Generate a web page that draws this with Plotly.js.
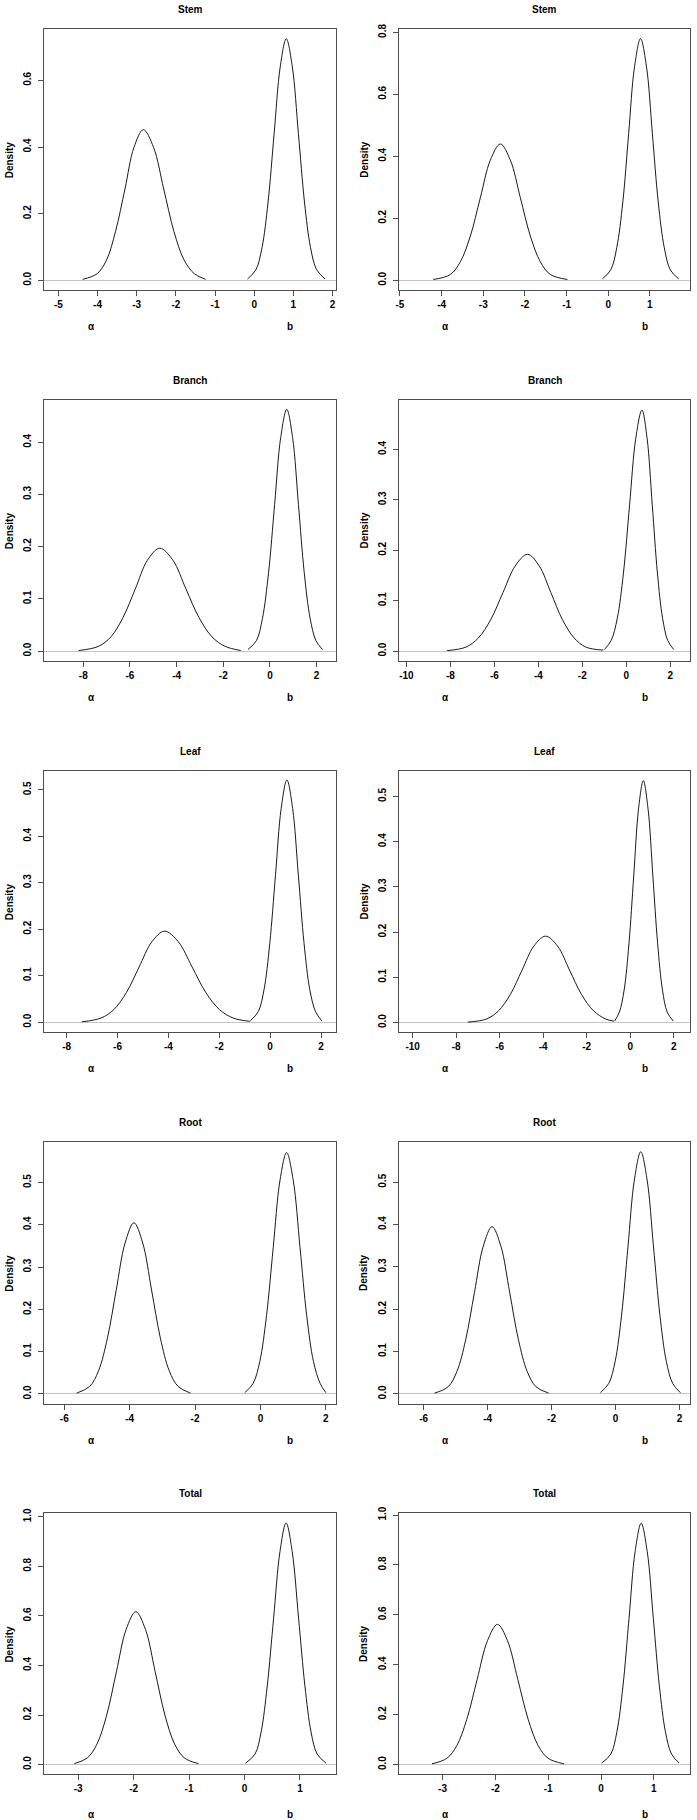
<!DOCTYPE html>
<html><head><meta charset="utf-8">
<script src="https://cdn.plot.ly/plotly-3.0.1.min.js"></script>
<style>html,body{margin:0;padding:0;background:#fff}#chart{width:697px;height:1820px}</style>
</head><body><div id="chart"></div>
<script>
// ---------------- DATA ----------------
const panelTitles = ['Stem','Stem','Branch','Branch','Leaf','Leaf','Root','Root','Total','Total'];
const seriesLabels = ['\u03b1','b'];

// Stem (left)
const stemL_alpha_x = [-4.38,-4.01,-3.77,-3.54,-3.30,-3.07,-2.83,-2.57,-2.31,-2.05,-1.79,-1.53,-1.24];
const stemL_alpha_y = [0.003,0.020,0.061,0.147,0.274,0.399,0.452,0.399,0.274,0.147,0.061,0.020,0.003];
const stemL_b_x = [-0.17,0.045,0.20,0.355,0.51,0.665,0.82,0.975,1.13,1.285,1.44,1.595,1.81];
const stemL_b_y = [0.004,0.032,0.098,0.235,0.440,0.640,0.725,0.640,0.440,0.235,0.098,0.032,0.004];
// Stem (right)
const stemR_alpha_x = [-4.20,-3.79,-3.55,-3.31,-3.07,-2.83,-2.59,-2.35,-2.11,-1.87,-1.63,-1.39,-0.98];
const stemR_alpha_y = [0.003,0.019,0.060,0.143,0.267,0.388,0.440,0.388,0.267,0.143,0.060,0.019,0.003];
const stemR_b_x = [-0.14,0.06,0.205,0.35,0.49,0.63,0.775,0.92,1.06,1.20,1.345,1.49,1.69];
const stemR_b_y = [0.005,0.034,0.106,0.253,0.473,0.688,0.780,0.688,0.473,0.253,0.106,0.034,0.005];
// Branch (left)
const branchL_alpha_x = [-8.20,-7.35,-6.82,-6.30,-5.77,-5.25,-4.72,-4.16,-3.60,-3.04,-2.48,-1.92,-1.25];
const branchL_alpha_y = [0.001,0.009,0.027,0.064,0.119,0.174,0.197,0.174,0.119,0.064,0.027,0.009,0.001];
const branchL_b_x = [-0.94,-0.58,-0.32,-0.06,0.20,0.46,0.72,0.97,1.22,1.47,1.72,1.97,2.25];
const branchL_b_y = [0.003,0.020,0.063,0.150,0.281,0.409,0.463,0.409,0.281,0.150,0.063,0.020,0.003];
// Branch (right)
const branchR_alpha_x = [-8.15,-7.29,-6.73,-6.17,-5.61,-5.05,-4.49,-3.96,-3.43,-2.90,-2.37,-1.84,-1.05];
const branchR_alpha_y = [0.001,0.008,0.026,0.062,0.116,0.169,0.192,0.169,0.116,0.062,0.026,0.008,0.002];
const branchR_b_x = [-1.00,-0.69,-0.41,-0.13,0.15,0.43,0.71,0.945,1.18,1.415,1.65,1.885,2.16];
const branchR_b_y = [0.003,0.021,0.065,0.155,0.290,0.422,0.478,0.422,0.290,0.155,0.065,0.021,0.003];
// Leaf (left)
const leafL_alpha_x = [-7.40,-6.65,-6.15,-5.65,-5.15,-4.65,-4.15,-3.61,-3.07,-2.53,-1.99,-1.45,-0.80];
const leafL_alpha_y = [0.001,0.009,0.027,0.064,0.119,0.173,0.196,0.173,0.119,0.064,0.027,0.009,0.002];
const leafL_b_x = [-0.78,-0.465,-0.24,-0.015,0.21,0.435,0.66,0.885,1.11,1.335,1.56,1.785,2.03];
const leafL_b_y = [0.003,0.023,0.070,0.169,0.316,0.460,0.521,0.460,0.316,0.169,0.070,0.023,0.003];
// Leaf (right)
const leafR_alpha_x = [-7.46,-6.59,-6.05,-5.51,-4.97,-4.43,-3.89,-3.34,-2.79,-2.24,-1.69,-1.14,-0.75];
const leafR_alpha_y = [0.001,0.008,0.026,0.062,0.116,0.169,0.191,0.169,0.116,0.062,0.026,0.008,0.003];
const leafR_b_x = [-0.72,-0.50,-0.28,-0.06,0.16,0.38,0.60,0.82,1.04,1.26,1.48,1.70,1.98];
const leafR_b_y = [0.003,0.023,0.072,0.174,0.324,0.472,0.535,0.472,0.324,0.174,0.072,0.023,0.003];
// Root (left)
const rootL_alpha_x = [-5.62,-5.22,-4.95,-4.68,-4.41,-4.14,-3.87,-3.60,-3.33,-3.06,-2.79,-2.52,-2.14];
const rootL_alpha_y = [0.002,0.018,0.055,0.132,0.246,0.357,0.405,0.357,0.246,0.132,0.055,0.018,0.002];
const rootL_b_x = [-0.48,-0.225,-0.02,0.185,0.39,0.595,0.80,1.005,1.21,1.415,1.62,1.825,2.00];
const rootL_b_y = [0.003,0.025,0.077,0.185,0.346,0.504,0.571,0.504,0.346,0.185,0.077,0.025,0.003];
// Root (right)
const rootR_alpha_x = [-5.66,-5.235,-4.96,-4.685,-4.41,-4.135,-3.86,-3.585,-3.31,-3.035,-2.76,-2.485,-2.09];
const rootR_alpha_y = [0.002,0.017,0.053,0.128,0.240,0.349,0.395,0.349,0.240,0.128,0.053,0.017,0.002];
const rootR_b_x = [-0.47,-0.21,-0.01,0.19,0.39,0.59,0.79,0.99,1.19,1.39,1.59,1.79,2.03];
const rootR_b_y = [0.003,0.025,0.077,0.186,0.347,0.505,0.572,0.505,0.347,0.186,0.077,0.025,0.003];
// Total (left)
const totalL_alpha_x = [-3.07,-2.835,-2.66,-2.485,-2.31,-2.135,-1.96,-1.785,-1.61,-1.435,-1.26,-1.085,-0.83];
const totalL_alpha_y = [0.004,0.027,0.083,0.200,0.374,0.545,0.617,0.545,0.374,0.200,0.083,0.027,0.004];
const totalL_b_x = [0.02,0.19,0.30,0.41,0.525,0.64,0.75,0.86,0.975,1.09,1.20,1.31,1.47];
const totalL_b_y = [0.006,0.043,0.132,0.317,0.591,0.860,0.975,0.860,0.591,0.317,0.132,0.043,0.006];
// Total (right)
const totalR_alpha_x = [-3.20,-2.92,-2.73,-2.54,-2.345,-2.15,-1.96,-1.77,-1.575,-1.38,-1.19,-1.00,-0.70];
const totalR_alpha_y = [0.003,0.025,0.076,0.182,0.341,0.496,0.562,0.496,0.341,0.182,0.076,0.025,0.003];
const totalR_b_x = [0.01,0.185,0.30,0.415,0.53,0.645,0.76,0.875,0.99,1.105,1.22,1.335,1.48];
const totalR_b_y = [0.006,0.042,0.131,0.314,0.586,0.853,0.967,0.853,0.586,0.314,0.131,0.042,0.006];

// tick labels
const xTicks_stemL = ['-5','-4','-3','-2','-1','0','1','2'];
const xTicks_stemR = ['-5','-4','-3','-2','-1','0','1'];
const xTicks_branchL = ['-8','-6','-4','-2','0','2'];
const xTicks_branchR = ['-10','-8','-6','-4','-2','0','2'];
const xTicks_leafL = ['-8','-6','-4','-2','0','2'];
const xTicks_leafR = ['-10','-8','-6','-4','-2','0','2'];
const xTicks_rootL = ['-6','-4','-2','0','2'];
const xTicks_rootR = ['-6','-4','-2','0','2'];
const xTicks_totalL = ['-3','-2','-1','0','1'];
const xTicks_totalR = ['-3','-2','-1','0','1'];
const yTicks_stemL = ['0.0','0.2','0.4','0.6'];
const yTicks_stemR = ['0.0','0.2','0.4','0.6','0.8'];
const yTicks_branch = ['0.0','0.1','0.2','0.3','0.4'];
const yTicks_leaf = ['0.0','0.1','0.2','0.3','0.4','0.5'];
const yTicks_root = ['0.0','0.1','0.2','0.3','0.4','0.5'];
const yTicks_total = ['0.0','0.2','0.4','0.6','0.8','1.0'];

// ---------------- LAYOUT ----------------
const W = 697, H = 1820;
const colLeft = [44.3, 398.7], colRight = [336, 690.3];
const rowTop = [29, 400, 770.7, 1142, 1513.3], rowBot = [290, 660.7, 1032, 1403.7, 1774.3];
const alphaLabX = [91, 445.3], bLabX = [290, 644.7];

const panels = [
  {ax: stemL_alpha_x, ay: stemL_alpha_y, bx: stemL_b_x, by: stemL_b_y, xt: xTicks_stemL, yt: yTicks_stemL, xr: [-5.36, 2.09], yr: [-0.029, 0.754]},
  {ax: stemR_alpha_x, ay: stemR_alpha_y, bx: stemR_b_x, by: stemR_b_y, xt: xTicks_stemR, yt: yTicks_stemR, xr: [-5.03, 1.97], yr: [-0.031, 0.811]},
  {ax: branchL_alpha_x, ay: branchL_alpha_y, bx: branchL_b_x, by: branchL_b_y, xt: xTicks_branchL, yt: yTicks_branch, xr: [-9.67, 2.83], yr: [-0.0185, 0.481]},
  {ax: branchR_alpha_x, ay: branchR_alpha_y, bx: branchR_b_x, by: branchR_b_y, xt: xTicks_branchR, yt: yTicks_branch, xr: [-10.35, 2.91], yr: [-0.019, 0.498]},
  {ax: leafL_alpha_x, ay: leafL_alpha_y, bx: leafL_b_x, by: leafL_b_y, xt: xTicks_leafL, yt: yTicks_leaf, xr: [-8.88, 2.59], yr: [-0.021, 0.541]},
  {ax: leafR_alpha_x, ay: leafR_alpha_y, bx: leafR_b_x, by: leafR_b_y, xt: xTicks_leafR, yt: yTicks_leaf, xr: [-10.64, 2.76], yr: [-0.021, 0.557]},
  {ax: rootL_alpha_x, ay: rootL_alpha_y, bx: rootL_b_x, by: rootL_b_y, xt: xTicks_rootL, yt: yTicks_root, xr: [-6.61, 2.31], yr: [-0.023, 0.596]},
  {ax: rootR_alpha_x, ay: rootR_alpha_y, bx: rootR_b_x, by: rootR_b_y, xt: xTicks_rootR, yt: yTicks_root, xr: [-6.78, 2.34], yr: [-0.023, 0.595]},
  {ax: totalL_alpha_x, ay: totalL_alpha_y, bx: totalL_b_x, by: totalL_b_y, xt: xTicks_totalL, yt: yTicks_total, xr: [-3.61, 1.65], yr: [-0.039, 1.014]},
  {ax: totalR_alpha_x, ay: totalR_alpha_y, bx: totalR_b_x, by: totalR_b_y, xt: xTicks_totalR, yt: yTicks_total, xr: [-3.83, 1.69], yr: [-0.039, 1.007]}
];

const FONT = 'Liberation Sans, Arial, Helvetica, sans-serif';
const boxColor = '#4d4d4d';
const traces = [];
const layout = {
  width: W, height: H, margin: {l: 0, r: 0, t: 0, b: 0},
  paper_bgcolor: '#ffffff', plot_bgcolor: '#ffffff', showlegend: false,
  font: {family: FONT, color: '#000'},
  annotations: []
};
const px = v => v / W;
const py = v => 1 - v / H;

panels.forEach((p, i) => {
  const col = i % 2, row = Math.floor(i / 2);
  const n = i === 0 ? '' : String(i + 1);
  const xa = 'x' + n, ya = 'y' + n;
  const lineStyle = {color: '#1a1a1a', width: 1, shape: 'spline', smoothing: 1};
  traces.push({x: p.ax, y: p.ay, xaxis: xa, yaxis: ya, type: 'scatter', mode: 'lines', line: lineStyle, hoverinfo: 'skip'});
  traces.push({x: p.bx, y: p.by, xaxis: xa, yaxis: ya, type: 'scatter', mode: 'lines', line: lineStyle, hoverinfo: 'skip'});
  const common = {
    showline: true, mirror: true, linecolor: boxColor, linewidth: 1,
    ticks: 'outside', ticklen: 5, tickwidth: 1, tickcolor: boxColor,
    showgrid: false, fixedrange: true,
    tickfont: {family: FONT, size: 10, color: '#000', weight: 'bold'}
  };
  layout['xaxis' + n] = Object.assign({}, common, {
    domain: [px(colLeft[col]), px(colRight[col])], range: p.xr, anchor: ya,
    tickmode: 'array', tickvals: p.xt.map(Number), ticktext: p.xt, zeroline: false
  });
  layout['yaxis' + n] = Object.assign({}, common, {
    domain: [py(rowBot[row]), py(rowTop[row])], range: p.yr, anchor: xa,
    tickmode: 'array', tickvals: p.yt.map(Number), ticktext: p.yt, tickangle: -90,
    ticklabelstandoff: 3,
    zeroline: true, zerolinecolor: '#c4c4c4', zerolinewidth: 1
  });
  const cx = (colLeft[col] + colRight[col]) / 2;
  const cy = (rowTop[row] + rowBot[row]) / 2;
  const bold = {family: FONT, size: 10, color: '#000', weight: 'bold'};
  layout.annotations.push({xref: 'paper', yref: 'paper', x: px(cx), y: py(rowTop[row] - 19.5), text: panelTitles[i], showarrow: false, xanchor: 'center', yanchor: 'middle', font: bold});
  layout.annotations.push({xref: 'paper', yref: 'paper', x: px(colLeft[col] - 34.5), y: py(cy), text: 'Density', textangle: -90, showarrow: false, xanchor: 'center', yanchor: 'middle', font: bold});
  const ly = row === 4 ? rowBot[row] + 40 : rowBot[row] + 36.5;
  layout.annotations.push({xref: 'paper', yref: 'paper', x: px(alphaLabX[col]), y: py(ly), text: seriesLabels[0], showarrow: false, xanchor: 'center', yanchor: 'middle', font: bold});
  layout.annotations.push({xref: 'paper', yref: 'paper', x: px(bLabX[col]), y: py(ly), text: seriesLabels[1], showarrow: false, xanchor: 'center', yanchor: 'middle', font: bold});
});

Plotly.newPlot('chart', traces, layout, {staticPlot: true, displayModeBar: false});
</script></body></html>
